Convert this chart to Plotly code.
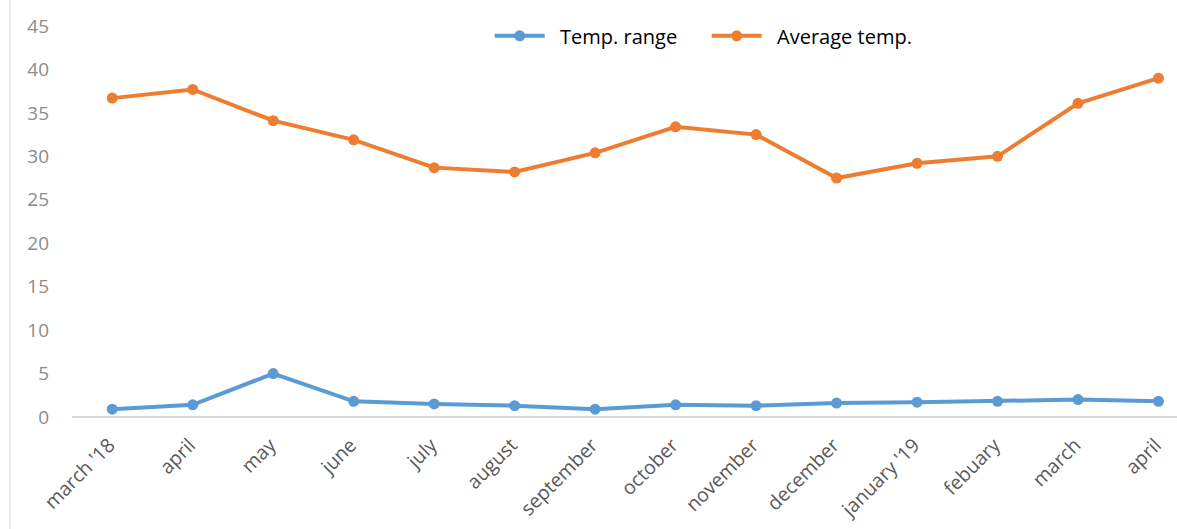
import plotly.graph_objects as go

months = ["march '18", "april", "may", "june", "july", "august", "september",
          "october", "november", "december", "january '19", "febuary", "march", "april"]
temp_range = [0.9, 1.4, 5.0, 1.8, 1.5, 1.3, 0.9, 1.4, 1.3, 1.6, 1.7, 1.8, 2.0, 1.8]
avg_temp = [36.7, 37.7, 34.1, 31.9, 28.7, 28.2, 30.4, 33.4, 32.5, 27.5, 29.2, 30.0, 36.1, 39.0]

BLUE = "#5B9BD5"
ORANGE = "#ED7D31"
x_idx = list(range(len(months)))

fig = go.Figure()
fig.add_trace(go.Scatter(x=x_idx, y=temp_range, name="  Temp. range", mode="lines+markers",
                         line=dict(color=BLUE, width=4), marker=dict(size=11, color=BLUE)))
fig.add_trace(go.Scatter(x=x_idx, y=avg_temp, name="  Average temp.", mode="lines+markers",
                         line=dict(color=ORANGE, width=4), marker=dict(size=11, color=ORANGE)))

fig.update_layout(
    width=1177, height=529,
    margin=dict(l=72, r=0, t=26, b=112),
    paper_bgcolor="white", plot_bgcolor="white",
    font=dict(family="Open Sans, Liberation Sans, sans-serif", color="#8C8C8C", size=15),
    showlegend=True,
    legend=dict(orientation="h", x=0.378, y=0.975, xanchor="left", yanchor="middle",
                font=dict(size=20, color="#000000"), entrywidth=152, entrywidthmode="pixels",
                itemwidth=50, bgcolor="rgba(0,0,0,0)"),
    xaxis=dict(range=[-0.5, 13.23], tickmode="array", tickvals=x_idx, ticktext=months,
               tickangle=-45, tickfont=dict(size=19.5, color="#595959"),
               ticklabelshift=-3, ticklabelstandoff=12,
               showgrid=False, zeroline=False, showline=False, ticks=""),
    yaxis=dict(range=[0, 45], dtick=5, showgrid=False, zeroline=True, zerolinecolor="#D9D9D9",
               zerolinewidth=1.5, showline=False, ticks="", ticklabelstandoff=22,
               tickfont=dict(size=19, color="#8C8C8C")),
    shapes=[dict(type="line", xref="paper", yref="paper", x0=-0.0561, x1=-0.0561,
                 y0=-0.3, y1=1.07, line=dict(color="#D9D9D9", width=1))],
)

fig.write_html("out.html")
